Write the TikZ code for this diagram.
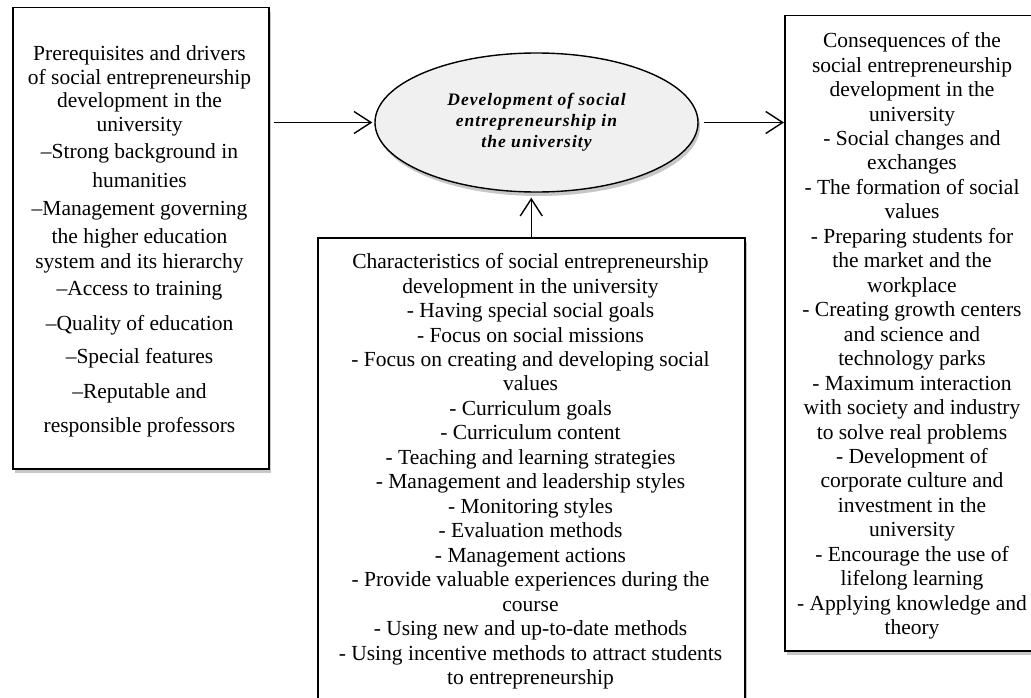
\documentclass[tikz,border=0pt]{standalone}
\usepackage{fontspec}
\setmainfont{Liberation Serif}
\usetikzlibrary{shapes.geometric,arrows.meta,shadows}
\begin{document}
\begin{tikzpicture}[x=1pt,y=-1pt,
  shad/.style={drop shadow={shadow xshift=2pt,shadow yshift=-4pt,opacity=0.22,fill=black}},
  box/.style={draw=black,line width=1.5pt,fill=white,rectangle,inner sep=0pt,anchor=north west,shad},
  boxtext/.style={anchor=north,align=center,inner sep=0pt,font=\fontsize{21.5}{24.46}\selectfont},
  lefttext/.style={anchor=north,align=center,inner sep=0pt,font=\fontsize{21.5}{23.7}\selectfont},
  centre/.style={ellipse,draw=black,line width=1.4pt,fill=black!6,inner sep=0pt,shad,
    font=\fontsize{17.5}{21}\selectfont\bfseries\itshape\addfontfeatures{LetterSpace=6},align=center},
  arr/.style={line width=1.4pt,-{Straight Barb[length=17pt,width=22pt,line width=1.4pt]}}
]
\useasboundingbox (0,0) rectangle (1031,698);
\clip (0,0) rectangle (1031,698);

% boxes
\node[box,minimum width=256pt,minimum height=461pt] (L) at (12,7) {};
\node[box,minimum width=256pt,minimum height=635pt] (R) at (784,15) {};
\node[box,minimum width=427pt,minimum height=480pt] (B) at (317,237) {};
\node[centre,minimum width=323pt,minimum height=139pt] (E) at (536.5,122.5)
  {Development of social\\entrepreneurship in\\the university};

% texts
\node[lefttext] (Lt) at (139.5,45.3) {Prerequisites and drivers\\
of social entrepreneurship\\
development in the\\
university\\[3.3pt]
–Strong background in\\[5.3pt]
humanities\\[4.3pt]
–Management governing\\[4.3pt]
the higher education\\[1.3pt]
system and its hierarchy\\[3.3pt]
–Access to training\\[11.3pt]
–Quality of education\\[9.3pt]
–Special features\\[11.3pt]
–Reputable and\\[10.3pt]
responsible professors};

\node[boxtext] (Rt) at (912,32.3) {Consequences of the\\
social entrepreneurship\\
development in the\\
university\\
- Social changes and\\
exchanges\\
- The formation of social\\
values\\
- Preparing students for\\
the market and the\\
workplace\\
- Creating growth centers\\
and science and\\
technology parks\\
- Maximum interaction\\
with society and industry\\
to solve real problems\\
- Development of\\
corporate culture and\\
investment in the\\
university\\
- Encourage the use of\\
lifelong learning\\
- Applying knowledge and\\
theory};

\node[boxtext] (Bt) at (530.5,253.3) {Characteristics of social entrepreneurship\\
development in the university\\
- Having special social goals\\
- Focus on social missions\\
- Focus on creating and developing social\\
values\\
- Curriculum goals\\
- Curriculum content\\
- Teaching and learning strategies\\
- Management and leadership styles\\
- Monitoring styles\\
- Evaluation methods\\
- Management actions\\
- Provide valuable experiences during the\\
course\\
- Using new and up-to-date methods\\
- Using incentive methods to attract students\\
to entrepreneurship};

% connectors
\draw[arr,shorten <=4pt,shorten >=2pt] (L.east |- E.west) -- (E.west);
\draw[arr,shorten <=5pt] (E.east) -- (R.west |- E.east);
\draw[arr,shorten >=5pt] (B.north) -- (B.north |- E.south);
\end{tikzpicture}
\end{document}
